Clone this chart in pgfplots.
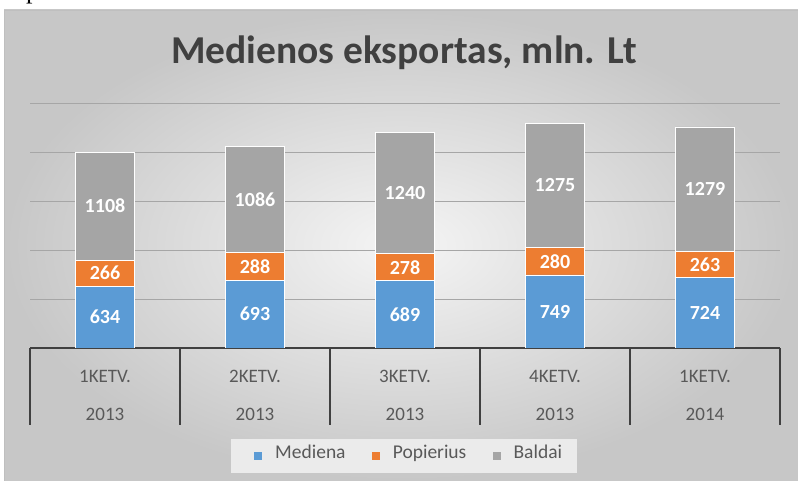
\documentclass[border=0pt]{standalone}
\usepackage{pgfplots}
\pgfplotsset{compat=1.18}
\usepackage{fontspec}
\setmainfont{Carlito}
\newfontfamily\serifp{Liberation Serif}

\definecolor{mediena}{HTML}{5B9BD5}
\definecolor{popierius}{HTML}{ED7D31}
\definecolor{baldai}{HTML}{A5A5A5}
\definecolor{txtgray}{HTML}{595959}
\definecolor{titlegray}{HTML}{404040}
\definecolor{axgray}{HTML}{404040}
\definecolor{gridgray}{HTML}{A6A6A6}

\pgfplotsset{
  sqlegend/.style={legend image code/.code={\path (-10pt,0pt); \fill[##1,draw=none] (0pt,-4pt) rectangle (8pt,4pt);}},
}

% values per quarter, mln. Lt
\pgfplotstableread{
x mediena popierius baldai
0 634 266 1108
1 693 288 1086
2 689 278 1240
3 749 280 1275
4 724 263 1279
}\exports

\begin{document}
\begin{tikzpicture}
\clip (0pt,0pt) rectangle (798pt,481pt);
\fill[white] (0pt,0pt) rectangle (798pt,481pt);
\shade[inner color=black!4, outer color=black!22] (4pt,0pt) rectangle (798pt,471pt);
\draw[black!25] (4pt,0pt) -- (4pt,471pt) -- (798pt,471pt);
\node[anchor=base west, inner sep=0pt, font=\serifp\fontsize{26}{30}\selectfont] at (26pt,482pt) {p};
\begin{axis}[
  at={(30pt,133pt)}, anchor=south west,
  scale only axis, width=750pt, height=244pt,
  ybar stacked, bar width=59pt,
  xmin=-0.5, xmax=4.5, ymin=0, ymax=2500,
  axis x line*=bottom, axis y line*=left,
  x axis line style={-, draw=axgray, line width=2pt},
  y axis line style={draw=none},
  ytick={0,500,1000,1500,2000,2500}, yticklabels={},
  ytick style={draw=none},
  ymajorgrids, grid style={gridgray, line width=1pt},
  major tick length=0pt,
  xtick={0,1,2,3,4},
  xticklabels={{1KETV.\\2013},{2KETV.\\2013},{3KETV.\\2013},{4KETV.\\2013},{1KETV.\\2014}},
  xticklabel style={font=\fontsize{19}{38}\selectfont, text=txtgray, align=center, anchor=center, yshift=-47pt},
  extra x ticks={-0.5,0.5,1.5,2.5,3.5,4.5}, extra x tick labels={},
  extra x tick style={major tick length=77pt, tick align=outside, xtick style={line width=2pt, draw=axgray}},
  title={Medienos eksportas, mln. Lt},
  title style={at={(0.4987,1.143)}, anchor=base, font=\bfseries\fontsize{39.5}{46}\selectfont, text=titlegray},
  nodes near coords={\pgfmathprintnumber[assume math mode=true,1000 sep={}]{\pgfplotspointmeta}},
  every node near coord/.append style={
    font=\bfseries\fontsize{20}{24}\selectfont, text=white, anchor=center},
  legend columns=3,
  legend style={at={(0.4987,-0.4426)}, anchor=center, draw=none, fill=black!8,
    font=\fontsize{19.5}{23}\selectfont, text=txtgray,
    inner xsep=13pt, inner ysep=9pt,
    nodes={text height=9pt, text depth=3pt},
    /tikz/every odd column/.append style={column sep=11pt},
    /tikz/every even column/.append style={column sep=14pt}},
]
\addplot[fill=mediena, draw=white, line width=0.5pt, sqlegend] table[x=x, y=mediena] {\exports};
\addplot[fill=popierius, draw=white, line width=0.5pt, sqlegend] table[x=x, y=popierius] {\exports};
\addplot[fill=baldai, draw=white, line width=0.5pt, sqlegend] table[x=x, y=baldai] {\exports};
\legend{Mediena, Popierius, Baldai}
\end{axis}
\end{tikzpicture}
\end{document}
